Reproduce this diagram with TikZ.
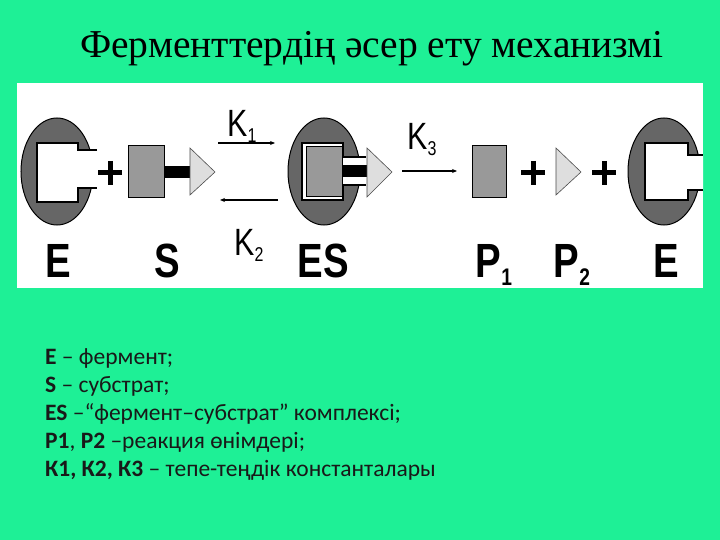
\documentclass[tikz,border=0pt]{standalone}
\usepackage{fontspec}
\usetikzlibrary{arrows.meta}
\setmainfont{Liberation Serif}
\newfontfamily\lsans{Liberation Sans}
\newfontfamily\carl{Carlito}
\begin{document}
\begin{tikzpicture}[x=1pt,y=-1pt,
  enz/.style={fill=black!60,draw=black,line width=1pt},
  cshape/.style={fill=white,draw=black,line width=2pt},
  sub/.style={fill=black!40,draw=black,line width=1pt},
  tri/.style={fill=black!13,draw=black!70,line width=0.6pt},
  bigl/.style={font=\lsans\bfseries\fontsize{48}{48}\selectfont,xscale=0.8,inner sep=0,anchor=base},
  kl/.style={font=\lsans\fontsize{38}{38}\selectfont,xscale=0.8,inner sep=0,anchor=base},
  leg/.style={font=\carl\fontsize{23.5}{23.5}\selectfont,anchor=base west,inner sep=0,text=black!90},
  arr/.style={-{Stealth[length=5pt,width=4pt]},line width=1.2pt},
  plus/.style={line width=5pt}]
\useasboundingbox (0,0) rectangle (720,540);
\fill[fill={rgb,255:red,30;green,240;blue,150}] (0,0) rectangle (720,540);
\fill[white] (17,83) rectangle (703,288);
\node[font=\fontsize{39.5}{39.5}\selectfont,anchor=base,inner sep=0] (title) at (372,58) {Ферменттердің әсер ету механизмі};
% left E
\path[enz] (57,171.5) ellipse (36 and 53.5);
\fill[white] (37,143) rectangle (78,202) (76,150) rectangle (97,188);
\draw[cshape,fill=none] (97,150)--(78,150)--(78,143)--(37,143)--(37,202)--(78,202)--(78,188)--(97,188);
\draw[plus] (98,173)--(122,173) (110,161)--(110,185);
% S
\draw[sub] (128,146) rectangle (164,198);
\fill[black] (164,166) rectangle (190,178);
\draw[tri] (190,148)--(215,172)--(190,195)--cycle;
% arrows
\coordinate (a1) at (218,143); \coordinate (b1) at (275,143);
\coordinate (a2) at (278,200); \coordinate (b2) at (220,200);
\draw[arr] (a1)--(b1); \draw[arr] (a2)--(b2);
\node[kl] (k1) at (242,137) {K\raisebox{-6pt}{\fontsize{20}{20}\selectfont 1}};
\node[kl] (k2) at (249,255) {K\raisebox{-6pt}{\fontsize{20}{20}\selectfont 2}};
% ES
\path[enz] (324,171.5) ellipse (36 and 53.5);
\fill[white] (302,143) rectangle (343,200) (341,157) rectangle (366,185);
\draw[cshape,fill=none] (366,157)--(343,157)--(343,143)--(302,143)--(302,200)--(343,200)--(343,185)--(366,185);
\draw[sub] (306,147) rectangle (342,197);
\fill[black] (342,165) rectangle (368,177);
\draw[tri] (367,148)--(392,172)--(367,197)--cycle;
% K3
\coordinate (a3) at (402,171); \coordinate (b3) at (457,171);
\draw[arr] (a3)--(b3);
\node[kl] (k3) at (422,150) {K\raisebox{-6pt}{\fontsize{20}{20}\selectfont 3}};
% products
\draw[sub] (472,146) rectangle (506,198);
\draw[plus] (521,173)--(545,173) (533,161)--(533,185);
\draw[tri] (556,148)--(581,172)--(556,195)--cycle;
\draw[plus] (592,173)--(616,173) (604,161)--(604,185);
\path[enz] (664,171.5) ellipse (36 and 53.5);
\fill[white] (645,143) rectangle (688,200) (686,155) rectangle (703,190);
\draw[cshape,fill=none] (703,155)--(688,155)--(688,143)--(645,143)--(645,200)--(688,200)--(688,190)--(703,190);
% letters
\node[bigl] (lE) at (58,277) {E};
\node[bigl] (lS) at (167,277) {S};
\node[bigl] (lES) at (323,277) {ES};
\node[bigl] (lP1) at (494,277) {P\raisebox{-8pt}{\fontsize{24}{24}\selectfont 1}};
\node[bigl] (lP2) at (572,277) {P\raisebox{-8pt}{\fontsize{24}{24}\selectfont 2}};
\node[bigl] (lE2) at (666,277) {E};
% legend
\node[leg] (l1) at (45,364) {\textbf{E} – фермент;};
\node[leg] (l2) at (45,392) {\textbf{S} – субстрат;};
\node[leg] (l3) at (45,420) {\textbf{ES} –“фермент–субстрат” комплексі;};
\node[leg] (l4) at (45,448) {\textbf{Р1}, \textbf{Р2} –реакция өнімдері;};
\node[leg] (l5) at (45,476) {\textbf{К1, К2, К3} – тепе-теңдік константалары};
\end{tikzpicture}
\end{document}
